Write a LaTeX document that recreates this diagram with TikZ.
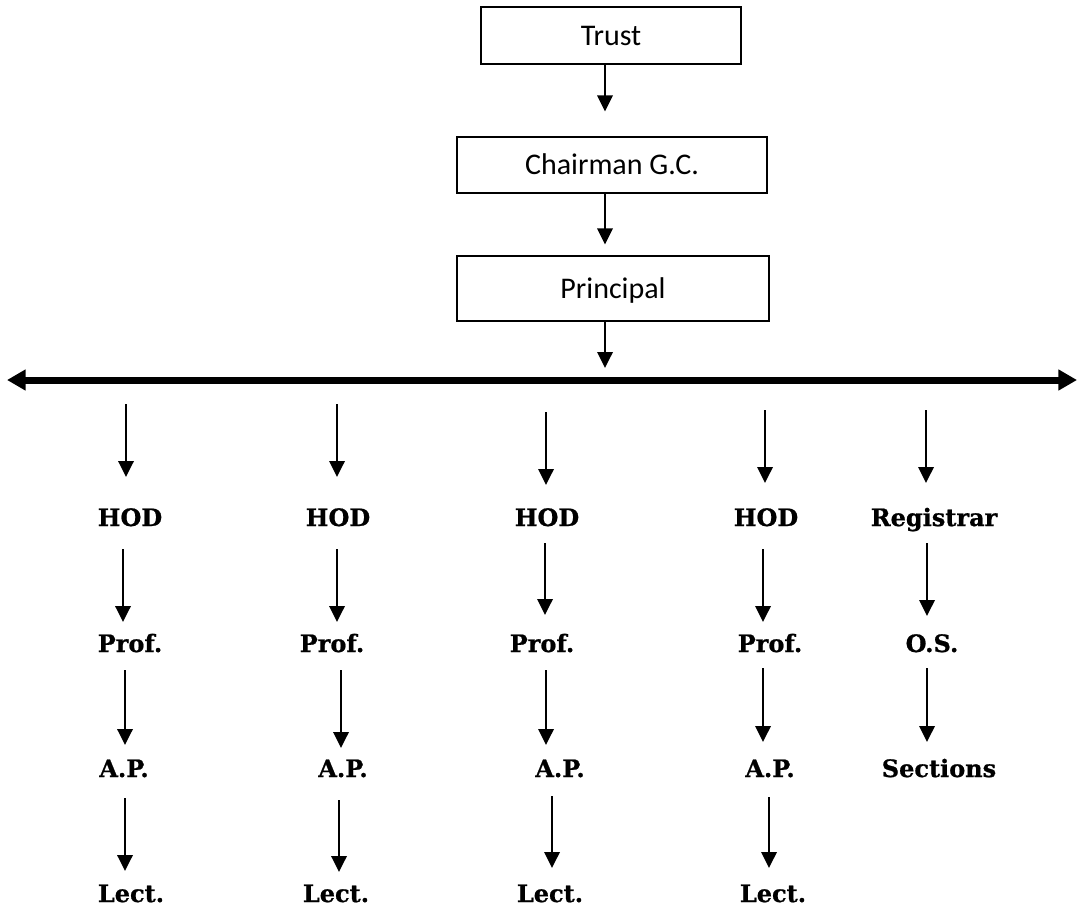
\documentclass[tikz,border=0pt]{standalone}
\usepackage{fontspec}
\newfontfamily\boxfont{Carlito}
\newfontfamily\labfont{DejaVu Serif}[BoldFeatures={FakeBold=0.8}]
\usetikzlibrary{arrows.meta,calc}
\begin{document}
\begin{tikzpicture}[x=0.75pt,y=-0.75pt,
  orgbox/.style={draw,line width=0.9pt,inner sep=0pt,font=\boxfont\fontsize{22.5}{26}\selectfont,text height=14.4pt,text depth=0pt},
  lab/.style={anchor=base,inner sep=0pt,font=\labfont\bfseries\fontsize{18}{21}\selectfont},
  arr/.style={line width=1.8pt,-{Triangle[length=12pt,width=11.5pt]}},
  bar/.style={line width=5.25pt,{Triangle[length=14pt,width=15pt]}-{Triangle[length=14pt,width=15pt]}}]
\useasboundingbox (0,0) rectangle (1077,907);

% top boxes
\node[orgbox,minimum width=195pt,minimum height=42.75pt] (trust) at (611,35.5) {Trust};
\node[orgbox,minimum width=232.5pt,minimum height=42pt] (chair) at (612,165) {Chairman G.C.};
\node[orgbox,minimum width=234pt,minimum height=48.75pt] (prin) at (613,288.5) {Principal};

\draw[arr] ($(trust.south)+(-6,0)$) -- ($(chair.north)+(-7,-25)$);
\draw[arr] ($(chair.south)+(-7,0)$) -- ($(prin.north)+(-8,-11)$);
\coordinate (pb) at (605,368);
\draw[arr] ($(prin.south)+(-8,0)$) -- (pb);

% horizontal bar
\coordinate (barL) at (7,380);
\coordinate (barR) at (1077,380);
\draw[bar] (barL) -- (barR);

% labels
\node[lab] (hod1) at (130,526) {HOD};
\node[lab] (hod2) at (338,526) {HOD};
\node[lab] (hod3) at (547,526) {HOD};
\node[lab] (hod4) at (766,526) {HOD};
\node[lab] (reg)  at (934,526) {Registrar};

\node[lab] (prof1) at (130,652) {Prof.};
\node[lab] (prof2) at (332,652) {Prof.};
\node[lab] (prof3) at (542,652) {Prof.};
\node[lab] (prof4) at (770,652) {Prof.};
\node[lab] (os)    at (932,652) {O.S.};

\node[lab] (ap1) at (124,777) {A.P.};
\node[lab] (ap2) at (343,777) {A.P.};
\node[lab] (ap3) at (560,777) {A.P.};
\node[lab] (ap4) at (770,777) {A.P.};
\node[lab] (sec) at (939,777) {Sections};

\node[lab] (lect1) at (131,902) {Lect.};
\node[lab] (lect2) at (336,902) {Lect.};
\node[lab] (lect3) at (550,902) {Lect.};
\node[lab] (lect4) at (773,902) {Lect.};

% arrows from bar
\coordinate (t1) at (126,404);
\coordinate (t2) at (337,404);
\coordinate (t3) at (546,412);
\coordinate (t4) at (765,410);
\coordinate (t5) at (926,410);
\draw[arr] (t1) -- ($(hod1.base)+(-4,-49)$);
\draw[arr] (t2) -- ($(hod2.base)+(-1,-49)$);
\draw[arr] (t3) -- ($(hod3.base)+(-1,-41)$);
\draw[arr] (t4) -- ($(hod4.base)+(-1,-43)$);
\draw[arr] (t5) -- ($(reg.base)+(-8,-43)$);

% HOD -> Prof
\draw[arr] ($(hod1.base)+(-7,23)$) -- ($(prof1.base)+(-7,-30)$);
\draw[arr] ($(hod2.base)+(-1,23)$) -- ($(prof2.base)+(5,-30)$);
\draw[arr] ($(hod3.base)+(-2,17)$) -- ($(prof3.base)+(3,-37)$);
\draw[arr] ($(hod4.base)+(-3,23)$) -- ($(prof4.base)+(-7,-30)$);
\draw[arr] ($(reg.base)+(-7,17)$) -- ($(os.base)+(-5,-36)$);

% Prof -> A.P.
\draw[arr] ($(prof1.base)+(-5,18)$) -- ($(ap1.base)+(1,-32)$);
\draw[arr] ($(prof2.base)+(9,18)$) -- ($(ap2.base)+(-2,-29)$);
\draw[arr] ($(prof3.base)+(4,18)$) -- ($(ap3.base)+(-14,-32)$);
\draw[arr] ($(prof4.base)+(-7,16)$) -- ($(ap4.base)+(-7,-35)$);
\draw[arr] ($(os.base)+(-5,16)$) -- ($(sec.base)+(-12,-35)$);

% A.P. -> Lect.
\draw[arr] ($(ap1.base)+(1,21)$) -- ($(lect1.base)+(-6,-31)$);
\draw[arr] ($(ap2.base)+(-4,23)$) -- ($(lect2.base)+(3,-30)$);
\draw[arr] ($(ap3.base)+(-8,19)$) -- ($(lect3.base)+(2,-34)$);
\draw[arr] ($(ap4.base)+(-1,20)$) -- ($(lect4.base)+(-4,-34)$);
\end{tikzpicture}
\end{document}
